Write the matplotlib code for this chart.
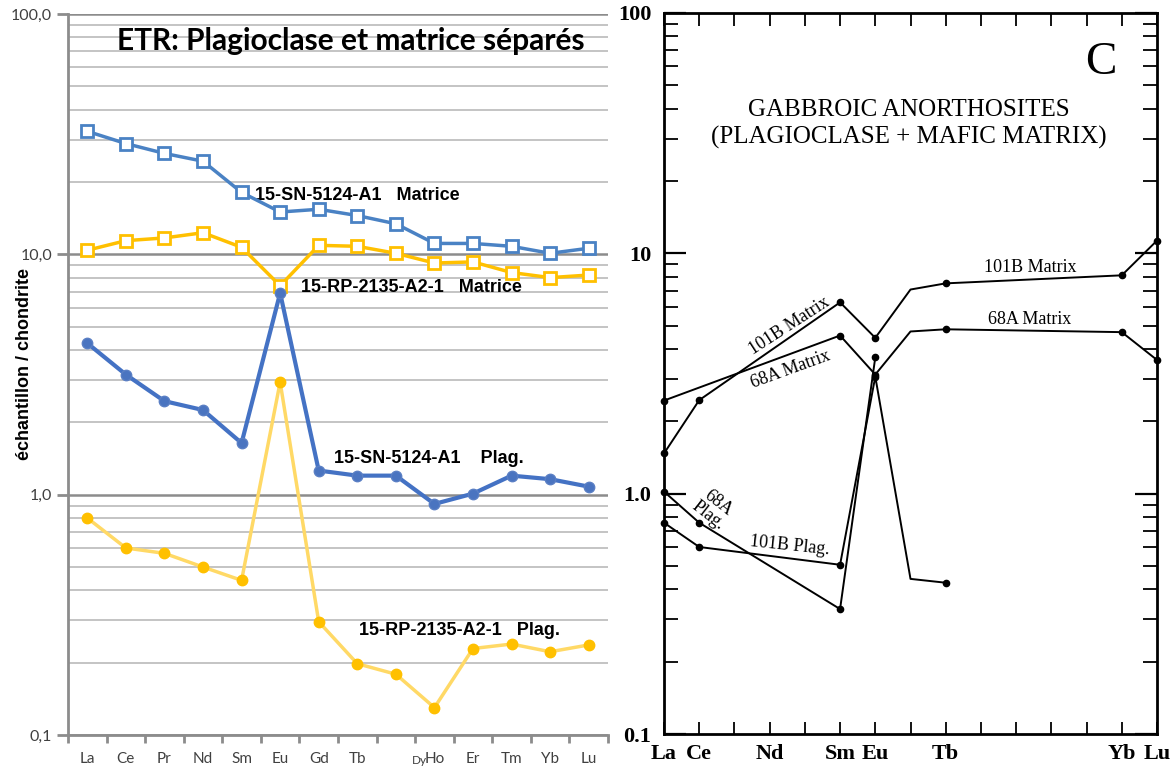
import matplotlib.pyplot as plt
import matplotlib.ticker as mticker
import matplotlib.transforms as mtransforms
import numpy as np

# --- left panel: ETR, plagioclase and matrix ---
elements_l = ['La', 'Ce', 'Pr', 'Nd', 'Sm', 'Eu', 'Gd', 'Tb', 'Dy', 'Ho', 'Er', 'Tm', 'Yb', 'Lu']
sn_matrice = [32.5, 28.9, 26.3, 24.4, 18.1, 15.0, 15.4, 14.5, 13.4, 11.1, 11.1, 10.8, 10.1, 10.6]
rp_matrice = [10.4, 11.4, 11.7, 12.3, 10.7, 7.4, 10.9, 10.8, 10.1, 9.2, 9.3, 8.4, 8.0, 8.2]
sn_plag = [4.27, 3.16, 2.45, 2.25, 1.64, 6.9, 1.26, 1.2, 1.2, 0.915, 1.01, 1.2, 1.16, 1.08]
rp_plag = [0.80, 0.60, 0.57, 0.50, 0.44, 2.94, 0.296, 0.198, 0.179, 0.13, 0.229, 0.239, 0.222, 0.237]

# --- right panel: gabbroic anorthosites (scanned figure C) ---
elements_r = ['La', 'Ce', 'Pr', 'Nd', 'Pm', 'Sm', 'Eu', 'Gd', 'Tb', 'Dy', 'Ho', 'Er', 'Tm', 'Yb', 'Lu']
shown_r = ['La', 'Ce', 'Nd', 'Sm', 'Eu', 'Tb', 'Yb', 'Lu']
m101b_el = ['La', 'Ce', 'Sm', 'Eu', 'Gd', 'Tb', 'Yb', 'Lu']
m101b = [1.47, 2.45, 6.25, 4.45, 7.07, 7.5, 8.1, 11.3]
m68a_el = ['La', 'Sm', 'Eu', 'Gd', 'Tb', 'Yb', 'Lu']
m68a = [2.44, 4.55, 3.13, 4.73, 4.83, 4.7, 3.6]
p68a_el = ['La', 'Ce', 'Sm', 'Eu']
p68a = [1.02, 0.757, 0.331, 3.69]
p101b_el = ['La', 'Ce', 'Sm', 'Eu', 'Gd', 'Tb']
p101b = [0.757, 0.60, 0.506, 3.07, 0.442, 0.426]

W, H = 1174, 771
fig = plt.figure(figsize=(W / 100, H / 100), dpi=100)

ax = fig.add_axes([68 / W, 1 - 735 / H, 540 / W, 721 / H])
x = np.arange(len(elements_l))
ax.set_yscale('log')
ax.set_ylim(0.1, 100)
ax.set_xlim(-0.5, len(elements_l) - 0.5)

ax.yaxis.set_major_locator(mticker.FixedLocator([0.1, 1, 10, 100]))
ax.yaxis.set_major_formatter(mticker.FuncFormatter(lambda v, p: f'{v:.1f}'.replace('.', ',')))
ax.yaxis.set_minor_locator(mticker.LogLocator(base=10, subs=np.arange(2, 10)))
ax.yaxis.set_minor_formatter(mticker.NullFormatter())
ax.grid(True, which='major', axis='y', color='#8c8c8c', lw=1.8, zorder=0)
ax.grid(True, which='minor', axis='y', color='#c4c4c4', lw=1.4, zorder=0)
ax.tick_params(axis='y', which='major', length=8, width=2, color='#8c8c8c', labelsize=11.5,
               labelcolor='#404040')
ax.tick_params(axis='y', which='minor', length=0)
for lab in ax.get_yticklabels():
    lab.set_family('Lato')

ax.set_xticks(x)
ax.set_xticklabels([e if e != 'Dy' else '' for e in elements_l], family='Lato', fontsize=11,
                   color='#404040')
ax.set_xticks(np.arange(-0.5, len(elements_l)), minor=True)
ax.tick_params(axis='x', which='major', length=0, pad=12)
ax.tick_params(axis='x', which='minor', length=6, width=2, color='#8c8c8c')
# the Dy label sits squeezed against Ho, a bit lower and smaller
trans = mtransforms.blended_transform_factory(ax.transData, ax.transAxes)
ax.text(8.6, -0.036, 'Dy', transform=trans, ha='center', va='center', family='Lato',
        fontsize=8.5, color='#404040')

for s in ['top', 'right']:
    ax.spines[s].set_visible(False)
for s in ['left', 'bottom']:
    ax.spines[s].set_color('#8c8c8c')
    ax.spines[s].set_linewidth(2)

ax.plot(x, sn_matrice, color='#4a82c4', lw=2.5, marker='s', ms=9, mfc='white', mec='#4a82c4',
        mew=2, zorder=4)
ax.plot(x, rp_matrice, color='#ffc000', lw=2.5, marker='s', ms=9, mfc='white', mec='#ffc000',
        mew=2, zorder=3)
ax.plot(x, sn_plag, color='#4472c4', lw=3, marker='o', ms=7.5, mfc='#4a74c0', mec='#5a7fc4',
        zorder=3)
ax.plot(x, rp_plag, color='#ffd966', lw=2.5, marker='o', ms=7.5, mfc='#ffc000', mec='#ffc000',
        zorder=3)

ax.set_ylabel('échantillon / chondrite', family='Liberation Sans', fontweight='bold',
              fontsize=13)
ax.yaxis.set_label_coords(-0.065, 0.515)

ax.text(0.524, 0.963, 'ETR: Plagioclase et matrice séparés', transform=ax.transAxes,
        ha='center', va='center', family='Lato', fontweight='bold', fontsize=21.5)
lbl = dict(family='Liberation Sans', fontweight='bold', fontsize=13, va='center', ha='left')
ax.text(4.36, 17.6, '15-SN-5124-A1   Matrice', **lbl)
ax.text(5.53, 7.3, '15-RP-2135-A2-1   Matrice', **lbl)
ax.text(6.39, 1.41, '15-SN-5124-A1    Plag.', **lbl)
ax.text(7.04, 0.271, '15-RP-2135-A2-1   Plag.', **lbl)

# --- right panel ---
ax2 = fig.add_axes([664 / W, 1 - 734 / H, 493 / W, 721 / H])
ax2.set_yscale('log')
ax2.set_ylim(0.1, 100)
ax2.set_xlim(0, len(elements_r) - 1)
pos = {e: i for i, e in enumerate(elements_r)}

serif = 'Liberation Serif'
ax2.yaxis.set_major_locator(mticker.FixedLocator([0.1, 1, 10, 100]))
ax2.yaxis.set_major_formatter(mticker.FixedFormatter(['0.1', '1.0', '10', '100']))
ax2.yaxis.set_minor_locator(mticker.LogLocator(base=10, subs=np.arange(2, 10)))
ax2.yaxis.set_minor_formatter(mticker.NullFormatter())
ax2.tick_params(axis='y', which='major', direction='in', length=16, width=1.6, left=True,
                right=True, pad=9, labelsize=16)
ax2.tick_params(axis='y', which='minor', direction='in', length=10, width=1.3, left=True,
                right=True)
ax2.set_xticks(range(len(elements_r)))
ax2.set_xticklabels([e if e in shown_r else '' for e in elements_r])
ax2.tick_params(axis='x', which='major', direction='in', length=9, width=1.3, top=True,
                bottom=True, pad=7, labelsize=16)
for lab in ax2.get_xticklabels() + ax2.get_yticklabels():
    lab.set_family(serif)
    lab.set_fontweight('bold')
for s in ax2.spines.values():
    s.set_linewidth(2)
    s.set_color('black')

def draw(els, vals, skip=()):
    xs = [pos[e] for e in els]
    ax2.plot(xs, vals, color='black', lw=1.4, zorder=3, clip_on=False)
    mk = [i for i, e in enumerate(els) if e not in skip]
    ax2.plot([xs[i] for i in mk], [vals[i] for i in mk], 'o', color='black', ms=4.5,
             zorder=4, clip_on=False)

draw(m101b_el, m101b, skip=('Gd',))
draw(m68a_el, m68a, skip=('Gd',))
draw(p68a_el, p68a)
draw(p101b_el, p101b, skip=('Gd',))

ax2.text(12.4, 62, 'C', family=serif, fontsize=34, ha='center', va='center')
ax2.text(6.96, 34.5, 'GABBROIC ANORTHOSITES\n(PLAGIOCLASE + MAFIC MATRIX)', family=serif,
         fontsize=18, ha='center', va='center', linespacing=1.25)
sm = dict(family=serif, fontsize=13, ha='center', va='center')
ax2.text(3.55, 5.0, '101B Matrix', rotation=33, **sm)
ax2.text(3.6, 3.3, '68A Matrix', rotation=20, **sm)
ax2.text(10.4, 8.7, '101B Matrix', **sm)
ax2.text(10.37, 5.3, '68A Matrix', **sm)
ax2.text(1.4, 0.86, '68A\nPlag.', rotation=-38, linespacing=0.9, **sm)
ax2.text(3.58, 0.61, '101B Plag.', rotation=-6, **sm)

fig.savefig('out.png', dpi=100)
